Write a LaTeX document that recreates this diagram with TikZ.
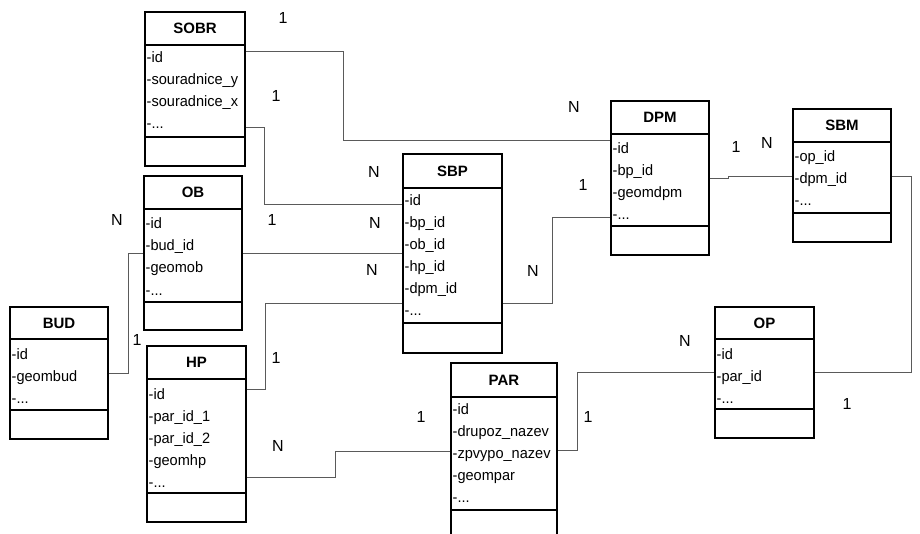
\documentclass[tikz,border=0pt]{standalone}
\usepackage{fontspec}
\setmainfont{Liberation Sans}
\newfontfamily\attrfont[FakeStretch=0.97]{Liberation Sans}
\usetikzlibrary{fit}
\definecolor{conncol}{HTML}{5A5A5A}
\newcommand\tdots{-.{}.{}.}
\tikzset{
  box/.style={draw=black, line width=1.2pt, fill=white, inner sep=0pt, rectangle},
  sep/.style={draw=black, line width=1.2pt},
  ttl/.style={font=\fontsize{15}{18}\selectfont\bfseries, inner sep=0pt},
  attr/.style={font=\attrfont\fontsize{15}{18}\selectfont, inner sep=0pt, anchor=base west},
  lbl/.style={font=\fontsize{16}{19}\selectfont, inner sep=0pt},
  conn/.style={draw=conncol, line width=0.9pt}
}
% name, x1, y1, x2, yhead, yattr, y2, title
\newcommand\ertable[8]{%
  \node[box, fit={(#2,#3) (#4,#7)}] (#1) {};
  \draw[sep] (#1.west |- 0,#5) -- (#1.east |- 0,#5);
  \draw[sep] (#1.west |- 0,#6) -- (#1.east |- 0,#6);
  \node[ttl] (#1-t) at ({(#2+#4)/2}, {(#3+#5)/2}) {#8};
}
% name, x, ybase, list
\newcommand\erattrs[4]{%
  \foreach \t [count=\i] in {#4} {
    \node[attr] (#1-\i) at (#2, {#3+(\i-1)*22}) {\t};
  }
}
\begin{document}
\begin{tikzpicture}[x=1pt, y=-1pt]
\useasboundingbox (0,0) rectangle (920,534);
\clip (0,0) rectangle (920,534);
\fill[white] (0,0) rectangle (920,534);

% tables
\ertable{sobr}{145}{12}{245}{45}{137}{166}{SOBR}
\erattrs{sobr}{146.5}{63}{-id,-souradnice\_y,-souradnice\_x,\tdots}

\ertable{ob}{144}{176}{242}{209}{302}{330}{OB}
\erattrs{ob}{145.5}{229}{-id,-bud\_id,-geomob,\tdots}

\ertable{bud}{10}{307}{108}{339}{410}{439}{BUD}
\erattrs{bud}{11.5}{359}{-id,-geombud,\tdots}

\ertable{hp}{147}{346}{246}{379}{493}{522}{HP}
\erattrs{hp}{148.5}{399}{-id,-par\_id\_1,-par\_id\_2,-geomhp,\tdots}

\ertable{sbp}{403}{154}{502}{188}{323}{353}{SBP}
\erattrs{sbp}{404.5}{206}{-id,-bp\_id,-ob\_id,-hp\_id,-dpm\_id,\tdots}

\ertable{dpm}{611}{101}{709}{134}{226}{255}{DPM}
\erattrs{dpm}{612.5}{154}{-id,-bp\_id,-geomdpm,\tdots}

\ertable{sbm}{793}{109}{891}{142}{213}{242}{SBM}
\erattrs{sbm}{794.5}{162}{-op\_id,-dpm\_id,\tdots}

\ertable{op}{715}{307}{814}{339}{409}{438}{OP}
\erattrs{op}{716.5}{359}{-id,-par\_id,\tdots}

\ertable{par}{451}{363}{557}{397}{510}{548}{PAR}
\erattrs{par}{452.5}{414}{-id,-drupoz\_nazev,-zpvypo\_nazev,-geompar,\tdots}

% connectors
\draw[conn] (sobr.east |- 0,51) -- (343,51) -- (343,140) -- (dpm.west |- 0,140);
\draw[conn] (sobr.east |- 0,127) -- (264,127) -- (264,204) -- (sbp.west |- 0,204);
\draw[conn] (ob.east |- 0,253) -- (sbp.west |- 0,253);
\draw[conn] (hp.east |- 0,389) -- (265,389) -- (265,303) -- (sbp.west |- 0,303);
\draw[conn] (sbp.east |- 0,303) -- (552,303) -- (552,217) -- (dpm.west |- 0,217);
\draw[conn] (dpm.east |- 0,178) -- (728,178) -- (728,176) -- (sbm.west |- 0,176);
\draw[conn] (sbm.east |- 0,176) -- (911,176) -- (911,372) -- (op.east |- 0,372);
\draw[conn] (op.west |- 0,372) -- (577,372) -- (577,450) -- (par.east |- 0,450);
\draw[conn] (hp.east |- 0,477) -- (335,477) -- (335,451) -- (par.west |- 0,451);
\draw[conn] (bud.east |- 0,373) -- (128,373) -- (128,253) -- (ob.west |- 0,253);

% cardinality labels
\node[lbl] (l1) at (283,18) {1};
\node[lbl] (l2) at (276,96) {1};
\node[lbl] (l3) at (574,107) {N};
\node[lbl] (l4) at (374,172) {N};
\node[lbl] (l5) at (375,223) {N};
\node[lbl] (l6) at (272,220) {1};
\node[lbl] (l7) at (372,270) {N};
\node[lbl] (l8) at (117,220) {N};
\node[lbl] (l9) at (137,340) {1};
\node[lbl] (l10) at (276,358) {1};
\node[lbl] (l11) at (533,271) {N};
\node[lbl] (l12) at (583,185) {1};
\node[lbl] (l13) at (736,147) {1};
\node[lbl] (l14) at (767,143) {N};
\node[lbl] (l15) at (685,341) {N};
\node[lbl] (l16) at (847,404) {1};
\node[lbl] (l17) at (421,417) {1};
\node[lbl] (l18) at (278,446) {N};
\node[lbl] (l19) at (588,417) {1};
\end{tikzpicture}
\end{document}
